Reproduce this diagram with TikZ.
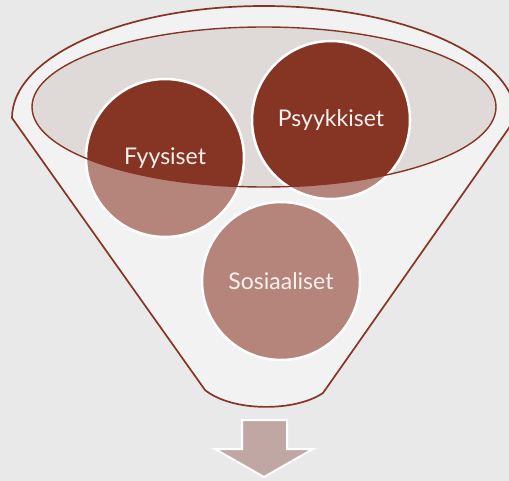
\documentclass[tikz,border=0pt]{standalone}
\usepackage{fontspec}
\setmainfont{Lato}
\definecolor{bg}{HTML}{E9E9E9}
\definecolor{funnel}{HTML}{F2F2F2}
\definecolor{rim}{HTML}{863525}
\definecolor{ball}{HTML}{B5847A}
\definecolor{bowl}{HTML}{DFDAD8}
\definecolor{out}{HTML}{C1A7A4}
\definecolor{label}{HTML}{F7F1EE}
\tikzset{
  ball/.style={circle,draw=white,line width=2.5pt,fill=ball,minimum size=158pt,
    text=label,font=\fontsize{23}{27}\selectfont,
    path picture={\fill[rim] (E) ellipse [x radius=232,y radius=80];}},
  edge/.style={draw=rim,line width=1.7pt}
}
\begin{document}
\begin{tikzpicture}[x=1pt,y=-1pt]
  \useasboundingbox (0,0) rectangle (509,481);
  \clip (0,0) rectangle (509,481);
  \fill[bg] (0,0) rectangle (509,481);

  \coordinate (E) at (264,107);
  \coordinate (L) at (12,118);
  \coordinate (R) at (323,393);
  \coordinate (Q) at (205,390);

  \path[edge,fill=funnel] (L) arc [start angle=180,end angle=360,x radius=252,y radius=112]
    -- (R) .. controls (295,412) and (232,412) .. (Q) -- cycle;
  \fill[bowl] (E) ellipse [x radius=232,y radius=80];

  \begin{scope}[every node/.style={ball}]
    \node (F) at (165,158) {Fyysiset};
    \node (P) at (331,120) {Psyykkiset};
    \node (S) at (281,281) {Sosiaaliset};
  \end{scope}

  \draw[rim,line width=1.4pt] (E) ellipse [x radius=232,y radius=80];

  \draw[white,line width=2pt,fill=out] (242,420) -- (287,420) -- (287,449) -- (313,449)
    -- (264,477) -- (215,449) -- (242,449) -- cycle;
\end{tikzpicture}
\end{document}
